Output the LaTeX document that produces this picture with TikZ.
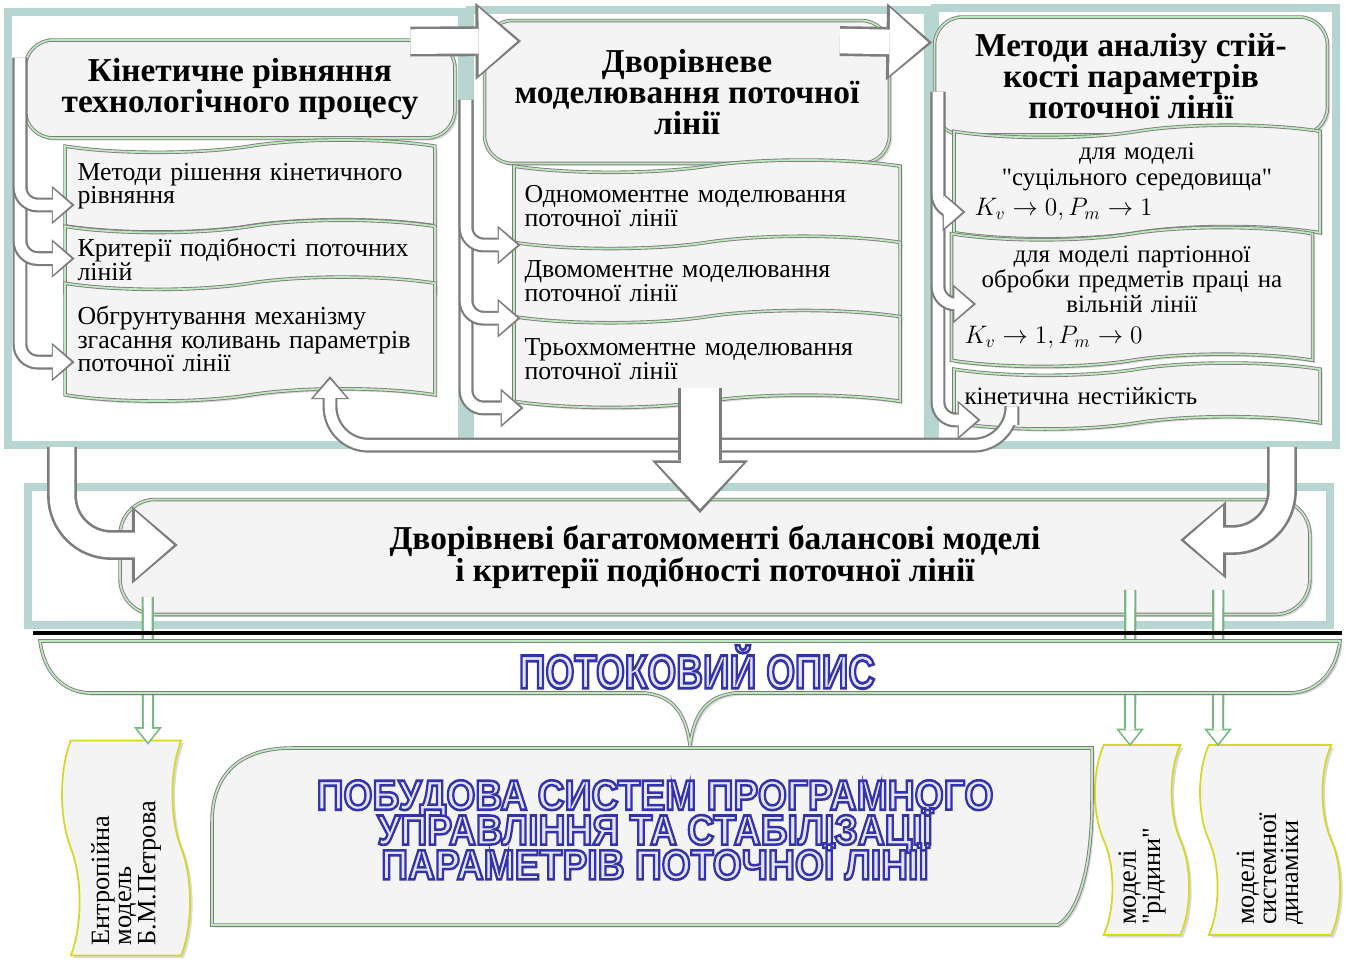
\documentclass[tikz,border=0pt]{standalone}
\usepackage{fontspec}
\setmainfont{Liberation Serif}
\setsansfont{Liberation Sans}
\newfontfamily\blocksans{Liberation Sans}[BoldFeatures={FakeBold=6}]
\usepackage{graphicx,xcolor}
\usepackage{tikz}
\usetikzlibrary{arrows.meta, calc, positioning, shapes.symbols, shadows, fit}

\definecolor{panelteal}{RGB}{184,214,209}
\definecolor{boxfill}{RGB}{244,244,244}
\definecolor{boxrim}{RGB}{125,125,125}
\definecolor{rimgreen}{RGB}{190,232,190}
\definecolor{arrowrim}{RGB}{125,125,125}
\definecolor{thingreen}{RGB}{120,185,130}
\definecolor{sideyellow}{RGB}{215,215,40}
\definecolor{innerblue}{RGB}{228,228,252}

\newcommand{\wavefont}{\fontsize{14.7}{13.4}\selectfont}
\newcommand{\stabfont}{\fontsize{14.2}{14.4}\selectfont}
\newcommand{\headtxt}{\bfseries\fontsize{19}{17.8}\selectfont}
\newcommand{\sidefont}{\fontsize{15}{12.5}\selectfont}
% light letters with a blue stroke
\newcommand{\outl}[1]{{\color{innerblue}\special{pdf:literal direct 0.20 0.20 0.67 RG}#1}}

\tikzset{
  panel/.style={draw=panelteal, line width=5pt, fill=white, inner sep=0pt,
    drop shadow={opacity=0.45, shadow xshift=2.5pt, shadow yshift=-2.5pt}},
  headbox/.style={draw=boxrim, line width=0.5pt, double=rimgreen, double distance=1pt,
    fill=boxfill, rounded corners=16pt, font=\headtxt, align=center,
    drop shadow={opacity=0.3, shadow xshift=1.5pt, shadow yshift=-1.5pt}},
  wavebox/.style={shape=tape, draw=boxrim, line width=0.5pt, double=rimgreen, double distance=1pt,
    fill=boxfill, tape bend top=in and out, tape bend bottom=in and out, tape bend height=7pt,
    font=\wavefont, align=left, inner xsep=6pt,
    drop shadow={opacity=0.3, shadow xshift=1.5pt, shadow yshift=-1.5pt}},
  sidebox/.style={shape=tape, rotate=90, draw=sideyellow, line width=1pt, fill=boxfill,
    tape bend top=in and out, tape bend bottom=in and out, tape bend height=10pt,
    font=\sidefont, align=left, inner xsep=5pt,
    drop shadow={opacity=0.3, shadow xshift=1.5pt, shadow yshift=-1.5pt}},
  bigrim/.style={draw=boxrim, line width=0.5pt, double=rimgreen, double distance=1pt,
    drop shadow={opacity=0.3, shadow xshift=1.5pt, shadow yshift=-1.5pt}},
  blocktxt/.style={font={\blocksans\bfseries\fontsize{#1}{19.8}\selectfont\lineskiplimit=-20pt}, align=center},
  hollowbig/.style={
    preaction={draw=arrowrim, line width=17pt, shorten >=0pt,
      -{Triangle[width=44pt, length=26pt, line width=0pt]}},
    draw=white, line width=14pt, shorten >=2.2pt,
    -{Triangle[width=38.5pt, length=22pt, line width=0pt]}},
  hollowhuge/.style={
    preaction={draw=arrowrim, line width=25pt, shorten >=0pt,
      -{Triangle[width=55pt, length=30pt, line width=0pt]}},
    draw=white, line width=22pt, shorten >=2.4pt,
    -{Triangle[width=49pt, length=26pt, line width=0pt]}},
  hollowmid/.style={
    preaction={draw=arrowrim, line width=8.5pt, shorten >=0pt,
      -{Triangle[width=22pt, length=13pt, line width=0pt]}},
    draw=white, line width=6pt, shorten >=1.8pt,
    -{Triangle[width=18.5pt, length=10.5pt, line width=0pt]}},
  hollowthin/.style={
    preaction={draw=thingreen, line width=7pt, shorten >=0pt,
      -{Triangle[width=16pt, length=10pt, line width=0pt]}},
    draw=white, line width=4.5pt, shorten >=1.5pt,
    -{Triangle[width=12pt, length=7.5pt, line width=0pt]}},
}

\begin{document}
\begin{tikzpicture}[x=0.02cm, y=-0.02cm]
  \useasboundingbox (0,0) rectangle (1346,963);

  % Panels
  \node[panel, fit={(8,12) (462,445)}] (kinpanel) {};
  \node[panel, fit={(470,10) (928,445)}] (modpanel) {};
  \node[panel, fit={(935,8) (1336,445)}] (stabpanel) {};
  \node[panel, fit={(28,487) (1330,625)}] (balpanel) {};

  % Kinetic equation
  \node[headbox, minimum width=8.6cm, minimum height=1.96cm] (kintitle) at (240,89) {Кінетичне рівняння\\технологічного процесу};
  \node[wavebox, minimum width=7.4cm, minimum height=1.84cm, text width=6.9cm] (kinsolve) at (250,186) {Методи рішення кінетичного\\рівняння};
  \node[wavebox, minimum width=7.4cm, minimum height=1.36cm, text width=6.9cm, below=0pt of kinsolve] (kincrit) {Критерії подібності поточних\\ліній};
  \node[wavebox, minimum width=7.4cm, minimum height=2.48cm, text width=6.9cm, below=-0.2cm of kincrit] (kindamp) {Обгрунтування механізму\\згасання коливань параметрів\\поточної лінії};

  % Two-level modelling
  \node[headbox, minimum width=8.1cm, minimum height=2.86cm] (modtitle) at (687,92) {Дворівневе\\моделювання поточної\\лінії};
  \node[wavebox, minimum width=7.7cm, minimum height=1.84cm, text width=7.3cm] (onemom) at (707,206) {Одномоментне моделювання\\поточної лінії};
  \node[wavebox, minimum width=7.7cm, minimum height=1.8cm, text width=7.3cm, below=-0.08cm of onemom] (twomom) {Двомоментне моделювання\\поточної лінії};
  \node[wavebox, minimum width=7.7cm, minimum height=1.94cm, text width=7.3cm, below=-0.08cm of twomom] (threemom) {Трьохмоментне моделювання\\поточної лінії};

  % Stability analysis
  \node[headbox, minimum width=7.86cm, minimum height=2.36cm] (stabtitle) at (1131,76) {Методи аналізу стій-\\кості параметрів\\поточної лінії};
  \node[wavebox, font=\stabfont, minimum width=7.3cm, minimum height=2.06cm, text width=6.9cm, align=center] (contmod) at (1137,182) {для моделі\\\textquotedbl суцільного середовища\textquotedbl\\[3pt]\makebox[6.5cm][l]{$K_v \to 0, P_m \to 1$}};
  \node[wavebox, font=\stabfont, minimum width=7.1cm, minimum height=2.64cm, text width=6.8cm, align=center] (batchmod) at (1132,297) {для моделі партіонної\\обробки предметів праці на\\вільній лінії\\[3pt]\makebox[6.7cm][l]{$K_v \to 1, P_m \to 0$}};
  \node[wavebox, font=\stabfont, minimum width=7.3cm, minimum height=1.32cm, text width=6.9cm] (kinunst) at (1137,396) {кінетична нестійкість};

  % Balance models
  \node[headbox, rounded corners=20pt, minimum width=23.8cm, minimum height=2.3cm] (balbox) at (715,557) {Дворівневі багатомоменті балансові моделі\\і критерії подібності поточної лінії};

  % Arrows inside the panels
  \coordinate (kinspine) at (20,58);
  \draw[hollowmid, rounded corners=10pt] (kinspine) |- ($(kindamp.west)+(10,23)$);
  \draw[hollowmid, rounded corners=10pt] (kinspine) |- ($(kincrit.west)+(10,-1)$);
  \draw[hollowmid, rounded corners=10pt] (kinspine) |- ($(kinsolve.west)+(10,19)$);

  \coordinate (modspine) at (466,100);
  \draw[hollowmid, rounded corners=10pt] (modspine) |- ($(threemom.west)+(10,49)$);
  \draw[hollowmid, rounded corners=10pt] (modspine) |- ($(twomom.west)+(7,37)$);
  \draw[hollowmid, rounded corners=10pt] (modspine) |- ($(onemom.west)+(7,39)$);

  \coordinate (stabspine) at (938,92);
  \draw[hollowmid, rounded corners=10pt] (stabspine) |- ($(kinunst.west)+(27,24)$);
  \draw[hollowmid, rounded corners=10pt] (stabspine) |- ($(batchmod.west)+(25,7)$);
  \draw[hollowmid, rounded corners=10pt] (stabspine) |- ($(contmod.west)+(12,30)$);

  % Arrows between the panels
  \draw[hollowbig] ($(kintitle.north east)+(-45,2)$) -- ($(modtitle.north west)+(37,21)$);
  \draw[hollowbig] ($(modtitle.north east)+(-50,21)$) -- ($(stabtitle.north west)+(-2,26)$);
  \coordinate (uright) at (1012,425);
  \draw[hollowmid, rounded corners=22pt] (uright) |- ($(kindamp.south)+(80,50)$) -- ($(kindamp.south)+(80,-19)$);
  \draw[hollowhuge] ($(threemom.south)+(-7,-14)$) -- ($(balbox.north)+(-15,14)$);

  \coordinate (balinL) at (62,447);
  \coordinate (balinR) at (1282,447);
  \draw[hollowbig, rounded corners=28pt] (balinL) |- ($(balbox.west)+(58,-12)$);
  \draw[hollowbig, rounded corners=28pt] (balinR) |- ($(balbox.east)+(-130,-17)$);

  % Bottom boxes
  \node[sidebox, minimum width=4.3cm, minimum height=2.56cm, text width=3.9cm] (entropy) at (126,848) {Ентропійна\\модель\\Б.М.Петрова};
  \node[sidebox, minimum width=3.8cm, minimum height=1.7cm, text width=3.4cm] (fluid) at (1142,840) {моделі\\\textquotedbl рідини\textquotedbl};
  \node[sidebox, minimum width=3.8cm, minimum height=2.8cm, text width=3.4cm] (sysdyn) at (1270,840) {моделі\\системної\\динаміки};

  \draw[hollowthin] ($(balbox.south west)+(28,-18)$) -- ($(entropy.east)+(22,5)$);
  \draw[hollowthin] ($(balbox.south east)+(-180,-25)$) -- ($(fluid.east)+(-12,2)$);
  \draw[hollowthin] ($(balbox.south east)+(-92,-25)$) -- ($(sysdyn.east)+(-52,2)$);

  % Flow description
  \draw[line width=1.8pt] (33,633) -- (1342,633);
  \draw[bigrim, fill=white] (40,641) -- (1340,641) .. controls (1336,672) and (1318,692) .. (1290,693) -- (735,693) .. controls (705,696) and (694,716) .. (690,745) .. controls (686,716) and (675,696) .. (645,693) -- (90,693) .. controls (62,692) and (44,672) .. (40,641) -- cycle;
  \node[blocktxt=27] (flowtxt) at (697,667) {\scalebox{0.78}[1]{\outl{ПОТОКОВИЙ ОПИС}}};

  \draw[bigrim, fill=boxfill] (212,925) -- (212,822) .. controls (212,772) and (242,748) .. (292,748) -- (1092,748) -- (1092,800) .. controls (1092,870) and (1078,912) .. (1058,925) -- cycle;
  \node[blocktxt=24] (buildtxt) at (655,830) {\scalebox{0.885}[1]{\outl{ПОБУДОВА СИСТЕМ ПРОГРАМНОГО}}\\\scalebox{0.885}[1]{\outl{УПРАВЛІННЯ ТА СТАБІЛІЗАЦІЇ}}\\\scalebox{0.885}[1]{\outl{ПАРАМЕТРІВ ПОТОЧНОЇ ЛІНІЇ}}};
\end{tikzpicture}
\end{document}
